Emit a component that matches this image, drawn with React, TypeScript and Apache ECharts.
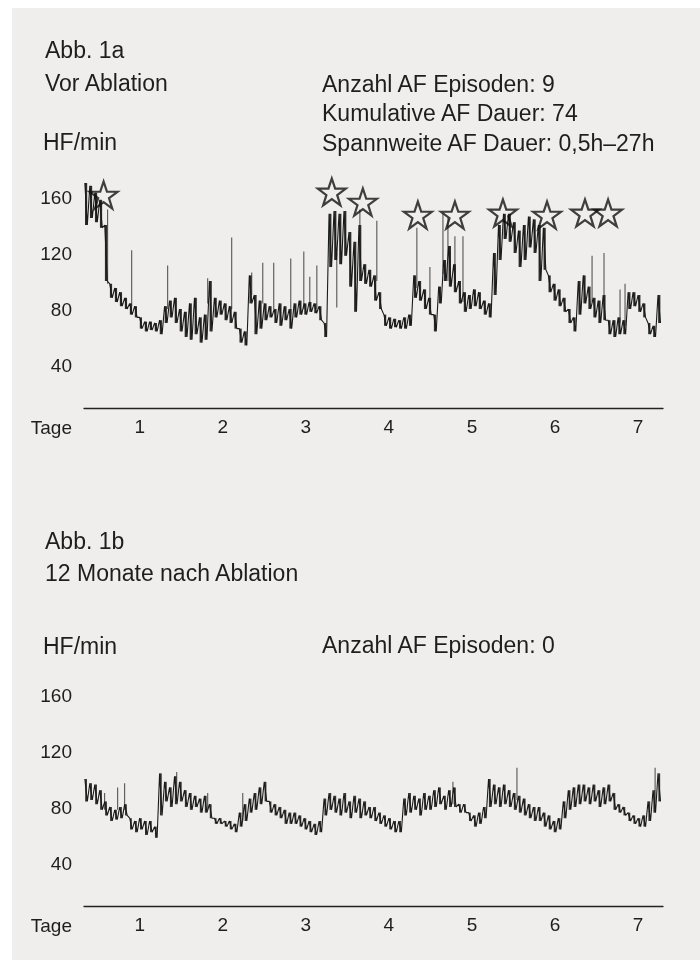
import React, { useEffect, useRef } from "react";
import * as echarts from "echarts";

const FONT = '"Liberation Sans", Arial, Helvetica, sans-serif';
const INK = "#1e1e1e";

const DAY_TICKS = [1, 2, 3, 4, 5, 6, 7];
const HR_TICKS = [40, 80, 120, 160];
const START_DAY = 0.34;
const STEP_DAY = 0.06;

// Abb. 1a – vor Ablation: lower / upper envelope of the trace per time bin
const topLo = [
  140, 145, 142, 138, 100, 88, 85, 82, 80, 76,
  74, 66, 64, 65, 64, 62, 70, 74, 70, 64,
  60, 58, 62, 56, 58, 64, 74, 76, 72, 70,
  66, 56, 54, 84, 62, 66, 72, 74, 70, 68,
  72, 66, 74, 76, 76, 78, 77, 72, 60, 110,
  115, 112, 118, 96, 78, 100, 98, 96, 86, 80,
  68, 66, 67, 66, 66, 68, 88, 86, 80, 76,
  64, 84, 100, 96, 92, 84, 78, 80, 82, 80,
  76, 74, 90, 115, 130, 128, 120, 110, 115, 124,
  120, 100, 108, 92, 86, 82, 78, 70, 64, 76,
  84, 80, 74, 70, 72, 62, 60, 62, 62, 80,
  82, 78, 74, 62, 60, 70,
];
const topHi = [
  170, 168, 163, 158, 140, 98, 95, 92, 88, 84,
  82, 74, 71, 71, 70, 72, 82, 86, 88, 80,
  78, 84, 88, 74, 76, 100, 88, 86, 84, 82,
  78, 66, 64, 104, 90, 86, 84, 82, 80, 84,
  82, 80, 84, 86, 84, 85, 84, 82, 70, 148,
  150, 148, 150, 135, 128, 140, 112, 108, 104, 92,
  76, 74, 73, 72, 74, 76, 104, 100, 94, 88,
  76, 96, 115, 125, 112, 100, 92, 90, 94, 92,
  86, 84, 120, 140, 148, 148, 142, 136, 140, 146,
  144, 140, 138, 104, 98, 94, 88, 80, 74, 100,
  104, 96, 88, 86, 90, 72, 72, 74, 72, 92,
  92, 90, 84, 70, 68, 90,
];
// isolated spikes: day, base, top
const topSpikeDays = [0.614, 0.904, 1.337, 1.819, 2.108, 2.349, 2.482, 2.614, 2.819, 2.976, 3.048, 3.133, 3.373, 3.651, 3.855, 4.337, 4.494, 4.651, 4.711, 4.795, 4.892, 6.446, 6.59, 6.783, 6.843];
const topSpikeBase = [98, 82, 80, 84, 80, 90, 84, 80, 76, 80, 82, 80, 81, 110, 100, 95, 80, 105, 100, 95, 85, 85, 80, 70, 68];
const topSpikeTop = [151, 122, 111, 102, 131, 106, 113, 113, 116, 121, 103, 111, 120, 151, 143, 138, 110, 148, 145, 132, 132, 118, 120, 94, 98];

// AF episodes (stars)
const starDays = [0.566, 3.313, 3.687, 4.349, 4.795, 5.373, 5.904, 6.361, 6.639];
const starHR = [161.4, 163.6, 156.4, 147.1, 147.1, 148.6, 147.1, 148.6, 148.6];

// Abb. 1b – 12 Monate nach Ablation
const botLo = [
  84, 85, 82, 78, 74, 70, 71, 72, 74, 64,
  62, 64, 60, 62, 58, 74, 84, 80, 82, 84,
  80, 78, 80, 76, 76, 72, 68, 68, 66, 64,
  62, 66, 70, 76, 78, 82, 84, 76, 74, 72,
  68, 68, 68, 66, 64, 62, 60, 62, 74, 78,
  76, 74, 76, 72, 76, 72, 74, 72, 70, 68,
  66, 64, 62, 62, 74, 76, 78, 74, 78, 78,
  80, 82, 78, 80, 80, 76, 76, 70, 66, 68,
  72, 80, 82, 80, 82, 80, 78, 76, 74, 72,
  70, 70, 66, 64, 62, 64, 72, 78, 80, 82,
  84, 82, 84, 80, 82, 84, 78, 76, 74, 70,
  68, 66, 66, 70, 76, 84,
];
const botHi = [
  100, 97, 96, 92, 84, 80, 78, 80, 82, 72,
  70, 72, 70, 70, 66, 104, 98, 94, 102, 98,
  92, 90, 88, 86, 88, 82, 72, 72, 70, 70,
  68, 76, 82, 86, 90, 94, 98, 84, 82, 80,
  78, 76, 76, 74, 72, 70, 68, 70, 86, 90,
  88, 86, 90, 84, 88, 86, 84, 80, 80, 76,
  74, 72, 70, 70, 86, 90, 88, 86, 90, 88,
  92, 94, 88, 92, 94, 82, 82, 76, 74, 76,
  80, 100, 96, 94, 96, 92, 90, 88, 86, 82,
  80, 80, 76, 74, 70, 72, 84, 92, 94, 96,
  96, 94, 96, 92, 94, 96, 90, 82, 80, 76,
  74, 72, 74, 84, 92, 104,
];
const botSpikeDays = [0.578, 0.735, 0.819, 1.446, 1.819, 2.241, 4.771, 5.542, 7.205];
const botSpikeBase = [78, 78, 78, 85, 78, 70, 82, 85, 80];
const botSpikeTop = [90, 94, 97, 105, 90, 90, 98, 108, 108];

const STAR_PATH =
  "path://M50,0 L61.8,35.1 L98.9,35.1 L68.9,57.3 L80.2,92.7 L50,70.8 L19.8,92.7 L31.1,57.3 L1.1,35.1 L38.2,35.1 Z";

function zigzag(lo: number[], hi: number[]) {
  const pts: number[][] = [];
  for (let i = 0; i < lo.length; i++) {
    const d = START_DAY + i * STEP_DAY;
    pts.push([d, hi[i]]);
    pts.push([d + STEP_DAY / 2, lo[i]]);
  }
  return pts;
}

function traceSeries(lo: number[], hi: number[], idx: number) {
  return {
    type: "line",
    xAxisIndex: idx,
    yAxisIndex: idx,
    data: zigzag(lo, hi),
    showSymbol: false,
    symbol: "none",
    lineStyle: { color: "#1a1a1a", width: 1.1 },
    silent: true,
    z: 3,
  };
}

function segSeries(
  data: number[][],
  idx: number,
  stroke: string,
  width: number,
  z: number
) {
  return {
    type: "custom",
    xAxisIndex: idx,
    yAxisIndex: idx,
    data,
    encode: { x: 0, y: [1, 2] },
    silent: true,
    z,
    renderItem: (_p: any, api: any) => {
      const a = api.coord([api.value(0), api.value(1)]);
      const b = api.coord([api.value(0), api.value(2)]);
      return {
        type: "line",
        shape: { x1: a[0], y1: a[1], x2: b[0], y2: b[1] },
        style: { stroke, lineWidth: width },
      };
    },
  };
}

function bandData(lo: number[], hi: number[]) {
  return lo.map((v, i) => [START_DAY + i * STEP_DAY + STEP_DAY / 4, v, hi[i]]);
}

function spikeData(days: number[], base: number[], top: number[]) {
  return days.map((d, i) => [d, base[i], top[i]]);
}

function xAxis(idx: number) {
  return {
    type: "value",
    gridIndex: idx,
    min: 0.33,
    max: 7.3,
    axisLine: { show: true, onZero: false, lineStyle: { color: "#222", width: 1.3 } },
    axisTick: { show: false },
    splitLine: { show: false },
    axisLabel: {
      customValues: DAY_TICKS,
      margin: 9,
      color: INK,
      fontSize: 19,
      fontFamily: FONT,
      formatter: (v: number) => String(v),
    },
  };
}

function yAxis(idx: number) {
  return {
    type: "value",
    gridIndex: idx,
    min: 9,
    max: 180,
    axisLine: { show: false },
    axisTick: { show: false },
    splitLine: { show: false },
    axisLabel: {
      customValues: HR_TICKS,
      margin: 12,
      color: INK,
      fontSize: 19,
      fontFamily: FONT,
      formatter: (v: number) => String(v),
    },
  };
}

function txt(text: string, x: number, y: number, size: number, align = "left") {
  return {
    type: "text",
    x,
    y,
    z: 10,
    silent: true,
    style: {
      text,
      fill: INK,
      font: `${size}px ${FONT}`,
      align,
      verticalAlign: "middle",
      textAlign: align,
      textVerticalAlign: "middle",
    },
  };
}

export default function App() {
  const ref = useRef<HTMLDivElement>(null);
  useEffect(() => {
    if (!ref.current) return;
    const chart = echarts.init(ref.current, undefined, { renderer: "svg" });
    chart.setOption({
      animation: false,
      grid: [
        { left: 84, right: 37, top: 169, height: 239.4, outerBoundsMode: "none" },
        { left: 84, right: 37, top: 667, height: 239.4, outerBoundsMode: "none" },
      ],
      xAxis: [xAxis(0), xAxis(1)],
      yAxis: [yAxis(0), yAxis(1)],
      graphic: [
        {
          type: "rect",
          z: -10,
          silent: true,
          shape: { x: 12, y: 8, width: 688, height: 952 },
          style: { fill: "#efeeec" },
        },
        txt("Abb. 1a", 45, 50, 23),
        txt("Vor Ablation", 45, 83, 23),
        txt("HF/min", 43, 142, 23),
        txt("Anzahl AF Episoden: 9", 322, 84, 23),
        txt("Kumulative AF Dauer: 74", 322, 113, 23),
        txt("Spannweite AF Dauer: 0,5h–27h", 322, 143, 23),
        txt("Tage", 72, 427, 19, "right"),
        txt("Abb. 1b", 45, 541, 23),
        txt("12 Monate nach Ablation", 45, 573, 23),
        txt("HF/min", 43, 646, 23),
        txt("Anzahl AF Episoden: 0", 322, 645, 23),
        txt("Tage", 72, 925, 19, "right"),
      ],
      series: [
        segSeries(spikeData(topSpikeDays, topSpikeBase, topSpikeTop), 0, "#555", 1.1, 2),
        segSeries(bandData(topLo, topHi), 0, "#2b2b2b", 2.2, 3),
        traceSeries(topLo, topHi, 0),
        {
          type: "scatter",
          xAxisIndex: 0,
          yAxisIndex: 0,
          data: starDays.map((d, i) => [d, starHR[i]]),
          symbol: STAR_PATH,
          symbolSize: [28, 27],
          itemStyle: { color: "rgba(0,0,0,0)", borderColor: "#111", borderWidth: 2.2 },
          silent: true,
          z: 5,
        },
        segSeries(spikeData(botSpikeDays, botSpikeBase, botSpikeTop), 1, "#555", 1.1, 2),
        segSeries(bandData(botLo, botHi), 1, "#333", 1.8, 3),
        traceSeries(botLo, botHi, 1),
      ],
    });
    return () => chart.dispose();
  }, []);
  return (
    <div
      ref={ref}
      style={{ position: "fixed", left: 0, top: 0, width: 700, height: 961 }}
    />
  );
}
